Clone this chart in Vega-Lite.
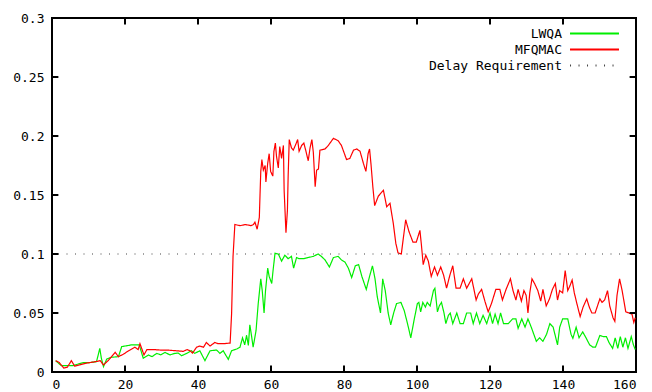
{
  "$schema": "https://vega.github.io/schema/vega-lite/v6.json",
  "width": 584,
  "height": 354,
  "autosize": {"type": "none"},
  "padding": {"left": 52, "top": 18, "right": 16, "bottom": 20},
  "background": "white",
  "config": {
    "view": {"stroke": "black", "strokeWidth": 2},
    "axis": {"domain": false, "grid": false, "ticks": false, "title": null, "labelFont": "DejaVu Sans Mono", "labelFontSize": 13, "labelColor": "#000"},
    "legend": {"orient": "none", "legendX": 526, "legendY": 9, "title": null, "padding": 0, "labelAlign": "right", "labelOffset": -39, "symbolOffset": 10, "symbolSize": 121, "symbolType": "M-4.45,0H4.45", "symbolStrokeWidth": 2, "rowPadding": 2, "labelFont": "DejaVu Sans Mono", "labelFontSize": 13, "labelColor": "#000"}
  },
  "datasets": {
    "series": [
      {"series":"LWQA","x":1.0,"y":0.0096},{"series":"LWQA","x":2.5,"y":0.0055},{"series":"LWQA","x":3.1,"y":0.0054},{"series":"LWQA","x":4.5,"y":0.0055},{"series":"LWQA","x":5.8,"y":0.0054},{"series":"LWQA","x":7.2,"y":0.0068},{"series":"LWQA","x":8.6,"y":0.008},{"series":"LWQA","x":10.4,"y":0.008},{"series":"LWQA","x":12.2,"y":0.0088},{"series":"LWQA","x":13.1,"y":0.02},{"series":"LWQA","x":13.5,"y":0.012},{"series":"LWQA","x":14.1,"y":0.0045},{"series":"LWQA","x":15,"y":0.011},{"series":"LWQA","x":16.3,"y":0.0125},{"series":"LWQA","x":18.2,"y":0.013},{"series":"LWQA","x":19.1,"y":0.0215},{"series":"LWQA","x":21.8,"y":0.023},{"series":"LWQA","x":23.9,"y":0.023},{"series":"LWQA","x":25,"y":0.0116},{"series":"LWQA","x":26.4,"y":0.0144},{"series":"LWQA","x":27.4,"y":0.013},{"series":"LWQA","x":28.7,"y":0.0158},{"series":"LWQA","x":29.8,"y":0.0145},{"series":"LWQA","x":31,"y":0.0166},{"series":"LWQA","x":32.3,"y":0.0145},{"series":"LWQA","x":33.7,"y":0.0158},{"series":"LWQA","x":34.6,"y":0.016},{"series":"LWQA","x":35.5,"y":0.0138},{"series":"LWQA","x":36.9,"y":0.0158},{"series":"LWQA","x":38.2,"y":0.018},{"series":"LWQA","x":39.1,"y":0.0158},{"series":"LWQA","x":40.5,"y":0.018},{"series":"LWQA","x":41.9,"y":0.0096},{"series":"LWQA","x":43.3,"y":0.018},{"series":"LWQA","x":45.1,"y":0.0186},{"series":"LWQA","x":46,"y":0.0158},{"series":"LWQA","x":46.9,"y":0.018},{"series":"LWQA","x":48.3,"y":0.0107},{"series":"LWQA","x":49.2,"y":0.018},{"series":"LWQA","x":50.6,"y":0.0195},{"series":"LWQA","x":51.5,"y":0.021},{"series":"LWQA","x":52.2,"y":0.029},{"series":"LWQA","x":52.8,"y":0.023},{"series":"LWQA","x":53.3,"y":0.031},{"series":"LWQA","x":53.8,"y":0.0225},{"series":"LWQA","x":54.2,"y":0.04},{"series":"LWQA","x":54.7,"y":0.03},{"series":"LWQA","x":55.1,"y":0.021},{"series":"LWQA","x":55.9,"y":0.035},{"series":"LWQA","x":56.5,"y":0.058},{"series":"LWQA","x":57.2,"y":0.079},{"series":"LWQA","x":57.6,"y":0.069},{"series":"LWQA","x":58.1,"y":0.05},{"series":"LWQA","x":58.5,"y":0.069},{"series":"LWQA","x":59.1,"y":0.088},{"series":"LWQA","x":59.5,"y":0.081},{"series":"LWQA","x":60.2,"y":0.075},{"series":"LWQA","x":60.6,"y":0.087},{"series":"LWQA","x":61.1,"y":0.1006},{"series":"LWQA","x":62,"y":0.1},{"series":"LWQA","x":62.9,"y":0.094},{"series":"LWQA","x":63.8,"y":0.099},{"series":"LWQA","x":64.7,"y":0.096},{"series":"LWQA","x":65.6,"y":0.098},{"series":"LWQA","x":66.2,"y":0.088},{"series":"LWQA","x":67,"y":0.097},{"series":"LWQA","x":67.7,"y":0.096},{"series":"LWQA","x":68.9,"y":0.096},{"series":"LWQA","x":70.2,"y":0.097},{"series":"LWQA","x":71.6,"y":0.098},{"series":"LWQA","x":72.9,"y":0.1},{"series":"LWQA","x":73.8,"y":0.098},{"series":"LWQA","x":74.8,"y":0.095},{"series":"LWQA","x":76,"y":0.089},{"series":"LWQA","x":77.1,"y":0.097},{"series":"LWQA","x":78.4,"y":0.098},{"series":"LWQA","x":79.3,"y":0.095},{"series":"LWQA","x":80.3,"y":0.093},{"series":"LWQA","x":81.2,"y":0.088},{"series":"LWQA","x":82.1,"y":0.08},{"series":"LWQA","x":83.1,"y":0.09},{"series":"LWQA","x":84,"y":0.091},{"series":"LWQA","x":84.9,"y":0.081},{"series":"LWQA","x":86.1,"y":0.07},{"series":"LWQA","x":87,"y":0.081},{"series":"LWQA","x":87.8,"y":0.09},{"series":"LWQA","x":88.5,"y":0.079},{"series":"LWQA","x":89.1,"y":0.064},{"series":"LWQA","x":90,"y":0.05},{"series":"LWQA","x":90.6,"y":0.079},{"series":"LWQA","x":91.3,"y":0.069},{"series":"LWQA","x":92.1,"y":0.05},{"series":"LWQA","x":92.8,"y":0.04},{"series":"LWQA","x":93.6,"y":0.05},{"series":"LWQA","x":94.4,"y":0.058},{"series":"LWQA","x":95.6,"y":0.059},{"series":"LWQA","x":96.5,"y":0.052},{"series":"LWQA","x":97.4,"y":0.041},{"series":"LWQA","x":98.3,"y":0.029},{"series":"LWQA","x":99.2,"y":0.044},{"series":"LWQA","x":100.1,"y":0.058},{"series":"LWQA","x":100.5,"y":0.059},{"series":"LWQA","x":101,"y":0.051},{"series":"LWQA","x":101.6,"y":0.059},{"series":"LWQA","x":102.3,"y":0.055},{"series":"LWQA","x":102.8,"y":0.059},{"series":"LWQA","x":103.6,"y":0.056},{"series":"LWQA","x":104.5,"y":0.069},{"series":"LWQA","x":104.9,"y":0.071},{"series":"LWQA","x":105.6,"y":0.051},{"series":"LWQA","x":106.1,"y":0.056},{"series":"LWQA","x":106.7,"y":0.059},{"series":"LWQA","x":107.4,"y":0.05},{"series":"LWQA","x":107.9,"y":0.041},{"series":"LWQA","x":108.6,"y":0.048},{"series":"LWQA","x":109.1,"y":0.05},{"series":"LWQA","x":109.8,"y":0.041},{"series":"LWQA","x":110.9,"y":0.05},{"series":"LWQA","x":111.8,"y":0.041},{"series":"LWQA","x":112.7,"y":0.041},{"series":"LWQA","x":113.6,"y":0.05},{"series":"LWQA","x":114.7,"y":0.05},{"series":"LWQA","x":115.4,"y":0.041},{"series":"LWQA","x":116.3,"y":0.05},{"series":"LWQA","x":117.2,"y":0.041},{"series":"LWQA","x":118.1,"y":0.048},{"series":"LWQA","x":119.1,"y":0.041},{"series":"LWQA","x":120,"y":0.05},{"series":"LWQA","x":120.7,"y":0.041},{"series":"LWQA","x":121.4,"y":0.049},{"series":"LWQA","x":122.2,"y":0.041},{"series":"LWQA","x":122.9,"y":0.05},{"series":"LWQA","x":123.7,"y":0.041},{"series":"LWQA","x":125,"y":0.041},{"series":"LWQA","x":126.2,"y":0.045},{"series":"LWQA","x":127.1,"y":0.045},{"series":"LWQA","x":127.7,"y":0.037},{"series":"LWQA","x":128.7,"y":0.045},{"series":"LWQA","x":129.6,"y":0.038},{"series":"LWQA","x":130.4,"y":0.045},{"series":"LWQA","x":131.3,"y":0.038},{"series":"LWQA","x":132.7,"y":0.026},{"series":"LWQA","x":133.6,"y":0.029},{"series":"LWQA","x":134.5,"y":0.026},{"series":"LWQA","x":135.5,"y":0.032},{"series":"LWQA","x":136.4,"y":0.041},{"series":"LWQA","x":137.3,"y":0.038},{"series":"LWQA","x":138.5,"y":0.023},{"series":"LWQA","x":139.1,"y":0.038},{"series":"LWQA","x":139.9,"y":0.045},{"series":"LWQA","x":141.3,"y":0.045},{"series":"LWQA","x":142.2,"y":0.032},{"series":"LWQA","x":142.7,"y":0.0285},{"series":"LWQA","x":143.6,"y":0.038},{"series":"LWQA","x":144.4,"y":0.029},{"series":"LWQA","x":145.4,"y":0.034},{"series":"LWQA","x":146.3,"y":0.029},{"series":"LWQA","x":147.3,"y":0.023},{"series":"LWQA","x":148.2,"y":0.021},{"series":"LWQA","x":148.9,"y":0.021},{"series":"LWQA","x":150.1,"y":0.031},{"series":"LWQA","x":151,"y":0.03},{"series":"LWQA","x":151.9,"y":0.03},{"series":"LWQA","x":152.6,"y":0.025},{"series":"LWQA","x":153.6,"y":0.02},{"series":"LWQA","x":154.3,"y":0.029},{"series":"LWQA","x":155,"y":0.02},{"series":"LWQA","x":155.7,"y":0.03},{"series":"LWQA","x":156.4,"y":0.021},{"series":"LWQA","x":157.1,"y":0.029},{"series":"LWQA","x":157.8,"y":0.02},{"series":"LWQA","x":158.7,"y":0.03},{"series":"LWQA","x":159.3,"y":0.023},{"series":"LWQA","x":159.8,"y":0.019},
      {"series":"MFQMAC","x":1.0,"y":0.0096},{"series":"MFQMAC","x":2.0,"y":0.008},{"series":"MFQMAC","x":3.2,"y":0.0034},{"series":"MFQMAC","x":4.2,"y":0.004},{"series":"MFQMAC","x":5.3,"y":0.0096},{"series":"MFQMAC","x":6.2,"y":0.005},{"series":"MFQMAC","x":7.5,"y":0.006},{"series":"MFQMAC","x":9.5,"y":0.0076},{"series":"MFQMAC","x":11.5,"y":0.0085},{"series":"MFQMAC","x":13.2,"y":0.0096},{"series":"MFQMAC","x":14.1,"y":0.006},{"series":"MFQMAC","x":15.5,"y":0.01},{"series":"MFQMAC","x":17.3,"y":0.0167},{"series":"MFQMAC","x":18.2,"y":0.013},{"series":"MFQMAC","x":19.5,"y":0.015},{"series":"MFQMAC","x":21,"y":0.018},{"series":"MFQMAC","x":22.7,"y":0.021},{"series":"MFQMAC","x":23.6,"y":0.019},{"series":"MFQMAC","x":24.1,"y":0.024},{"series":"MFQMAC","x":25.2,"y":0.0145},{"series":"MFQMAC","x":26,"y":0.019},{"series":"MFQMAC","x":28,"y":0.019},{"series":"MFQMAC","x":30,"y":0.0185},{"series":"MFQMAC","x":32,"y":0.0185},{"series":"MFQMAC","x":34,"y":0.018},{"series":"MFQMAC","x":36,"y":0.0175},{"series":"MFQMAC","x":37,"y":0.019},{"series":"MFQMAC","x":37.8,"y":0.018},{"series":"MFQMAC","x":38.5,"y":0.016},{"series":"MFQMAC","x":39.6,"y":0.021},{"series":"MFQMAC","x":40.5,"y":0.022},{"series":"MFQMAC","x":41.5,"y":0.021},{"series":"MFQMAC","x":42.3,"y":0.025},{"series":"MFQMAC","x":43.3,"y":0.022},{"series":"MFQMAC","x":44.6,"y":0.025},{"series":"MFQMAC","x":45.5,"y":0.024},{"series":"MFQMAC","x":47,"y":0.024},{"series":"MFQMAC","x":48.8,"y":0.0245},{"series":"MFQMAC","x":49.2,"y":0.049},{"series":"MFQMAC","x":49.6,"y":0.098},{"series":"MFQMAC","x":50.1,"y":0.125},{"series":"MFQMAC","x":51.5,"y":0.124},{"series":"MFQMAC","x":53,"y":0.125},{"series":"MFQMAC","x":54.5,"y":0.124},{"series":"MFQMAC","x":55.2,"y":0.125},{"series":"MFQMAC","x":55.6,"y":0.127},{"series":"MFQMAC","x":56.2,"y":0.121},{"series":"MFQMAC","x":56.8,"y":0.131},{"series":"MFQMAC","x":57.0,"y":0.151},{"series":"MFQMAC","x":57.2,"y":0.17},{"series":"MFQMAC","x":57.5,"y":0.18},{"series":"MFQMAC","x":57.9,"y":0.171},{"series":"MFQMAC","x":58.4,"y":0.175},{"series":"MFQMAC","x":58.6,"y":0.161},{"series":"MFQMAC","x":59.1,"y":0.177},{"series":"MFQMAC","x":59.5,"y":0.185},{"series":"MFQMAC","x":59.9,"y":0.17},{"series":"MFQMAC","x":60.5,"y":0.166},{"series":"MFQMAC","x":60.8,"y":0.187},{"series":"MFQMAC","x":61.2,"y":0.194},{"series":"MFQMAC","x":61.5,"y":0.183},{"series":"MFQMAC","x":62,"y":0.173},{"series":"MFQMAC","x":62.4,"y":0.191},{"series":"MFQMAC","x":62.9,"y":0.181},{"series":"MFQMAC","x":63.4,"y":0.192},{"series":"MFQMAC","x":63.6,"y":0.154},{"series":"MFQMAC","x":64.1,"y":0.118},{"series":"MFQMAC","x":64.5,"y":0.137},{"series":"MFQMAC","x":64.7,"y":0.166},{"series":"MFQMAC","x":65,"y":0.197},{"series":"MFQMAC","x":65.6,"y":0.19},{"series":"MFQMAC","x":66.1,"y":0.188},{"series":"MFQMAC","x":66.8,"y":0.193},{"series":"MFQMAC","x":67.3,"y":0.197},{"series":"MFQMAC","x":67.7,"y":0.187},{"series":"MFQMAC","x":68.4,"y":0.192},{"series":"MFQMAC","x":69,"y":0.194},{"series":"MFQMAC","x":69.5,"y":0.188},{"series":"MFQMAC","x":70.2,"y":0.179},{"series":"MFQMAC","x":70.7,"y":0.19},{"series":"MFQMAC","x":71.2,"y":0.197},{"series":"MFQMAC","x":71.6,"y":0.186},{"series":"MFQMAC","x":72.1,"y":0.157},{"series":"MFQMAC","x":72.5,"y":0.171},{"series":"MFQMAC","x":73,"y":0.172},{"series":"MFQMAC","x":73.4,"y":0.188},{"series":"MFQMAC","x":74.8,"y":0.189},{"series":"MFQMAC","x":75.7,"y":0.192},{"series":"MFQMAC","x":77.1,"y":0.198},{"series":"MFQMAC","x":78.4,"y":0.196},{"series":"MFQMAC","x":79.3,"y":0.192},{"series":"MFQMAC","x":80.7,"y":0.18},{"series":"MFQMAC","x":81.6,"y":0.181},{"series":"MFQMAC","x":82.6,"y":0.188},{"series":"MFQMAC","x":83.5,"y":0.189},{"series":"MFQMAC","x":84.4,"y":0.187},{"series":"MFQMAC","x":85.3,"y":0.177},{"series":"MFQMAC","x":86,"y":0.17},{"series":"MFQMAC","x":86.6,"y":0.185},{"series":"MFQMAC","x":87,"y":0.189},{"series":"MFQMAC","x":87.4,"y":0.176},{"series":"MFQMAC","x":87.9,"y":0.157},{"series":"MFQMAC","x":88.4,"y":0.141},{"series":"MFQMAC","x":89.4,"y":0.149},{"series":"MFQMAC","x":90.8,"y":0.154},{"series":"MFQMAC","x":91.7,"y":0.14},{"series":"MFQMAC","x":92.6,"y":0.143},{"series":"MFQMAC","x":93.5,"y":0.126},{"series":"MFQMAC","x":94.2,"y":0.109},{"series":"MFQMAC","x":94.8,"y":0.101},{"series":"MFQMAC","x":95.7,"y":0.1},{"series":"MFQMAC","x":96.9,"y":0.129},{"series":"MFQMAC","x":97.8,"y":0.119},{"series":"MFQMAC","x":98.9,"y":0.11},{"series":"MFQMAC","x":99.8,"y":0.11},{"series":"MFQMAC","x":100.8,"y":0.12},{"series":"MFQMAC","x":101.2,"y":0.108},{"series":"MFQMAC","x":101.7,"y":0.091},{"series":"MFQMAC","x":102.4,"y":0.099},{"series":"MFQMAC","x":103.1,"y":0.094},{"series":"MFQMAC","x":103.9,"y":0.081},{"series":"MFQMAC","x":104.8,"y":0.089},{"series":"MFQMAC","x":105.6,"y":0.082},{"series":"MFQMAC","x":106.5,"y":0.089},{"series":"MFQMAC","x":107.3,"y":0.082},{"series":"MFQMAC","x":108.1,"y":0.071},{"series":"MFQMAC","x":109,"y":0.082},{"series":"MFQMAC","x":109.8,"y":0.09},{"series":"MFQMAC","x":110.7,"y":0.071},{"series":"MFQMAC","x":111.8,"y":0.071},{"series":"MFQMAC","x":112.7,"y":0.079},{"series":"MFQMAC","x":113.6,"y":0.071},{"series":"MFQMAC","x":115,"y":0.079},{"series":"MFQMAC","x":116.2,"y":0.061},{"series":"MFQMAC","x":116.8,"y":0.066},{"series":"MFQMAC","x":117.7,"y":0.07},{"series":"MFQMAC","x":118.6,"y":0.06},{"series":"MFQMAC","x":119.5,"y":0.051},{"series":"MFQMAC","x":120.4,"y":0.058},{"series":"MFQMAC","x":121.6,"y":0.07},{"series":"MFQMAC","x":122.7,"y":0.07},{"series":"MFQMAC","x":123.4,"y":0.061},{"series":"MFQMAC","x":124.4,"y":0.07},{"series":"MFQMAC","x":125.6,"y":0.079},{"series":"MFQMAC","x":126.3,"y":0.069},{"series":"MFQMAC","x":127.1,"y":0.061},{"series":"MFQMAC","x":127.7,"y":0.07},{"series":"MFQMAC","x":128.6,"y":0.06},{"series":"MFQMAC","x":129.3,"y":0.069},{"series":"MFQMAC","x":129.9,"y":0.065},{"series":"MFQMAC","x":130.4,"y":0.05},{"series":"MFQMAC","x":130.9,"y":0.067},{"series":"MFQMAC","x":131.5,"y":0.079},{"series":"MFQMAC","x":132.2,"y":0.075},{"series":"MFQMAC","x":133.1,"y":0.069},{"series":"MFQMAC","x":133.9,"y":0.06},{"series":"MFQMAC","x":134.5,"y":0.07},{"series":"MFQMAC","x":135.4,"y":0.056},{"series":"MFQMAC","x":136.3,"y":0.062},{"series":"MFQMAC","x":137.1,"y":0.07},{"series":"MFQMAC","x":137.9,"y":0.075},{"series":"MFQMAC","x":138.5,"y":0.061},{"series":"MFQMAC","x":139.1,"y":0.069},{"series":"MFQMAC","x":139.9,"y":0.067},{"series":"MFQMAC","x":140.6,"y":0.086},{"series":"MFQMAC","x":141.3,"y":0.069},{"series":"MFQMAC","x":141.9,"y":0.073},{"series":"MFQMAC","x":142.5,"y":0.078},{"series":"MFQMAC","x":143.1,"y":0.067},{"series":"MFQMAC","x":143.8,"y":0.058},{"series":"MFQMAC","x":144.7,"y":0.047},{"series":"MFQMAC","x":145.5,"y":0.055},{"series":"MFQMAC","x":146.5,"y":0.062},{"series":"MFQMAC","x":147.2,"y":0.055},{"series":"MFQMAC","x":147.9,"y":0.05},{"series":"MFQMAC","x":148.8,"y":0.05},{"series":"MFQMAC","x":150.1,"y":0.062},{"series":"MFQMAC","x":150.7,"y":0.059},{"series":"MFQMAC","x":151.4,"y":0.061},{"series":"MFQMAC","x":152.2,"y":0.069},{"series":"MFQMAC","x":152.8,"y":0.056},{"series":"MFQMAC","x":153.7,"y":0.046},{"series":"MFQMAC","x":154.2,"y":0.043},{"series":"MFQMAC","x":154.8,"y":0.065},{"series":"MFQMAC","x":155.5,"y":0.079},{"series":"MFQMAC","x":156.2,"y":0.069},{"series":"MFQMAC","x":157.2,"y":0.051},{"series":"MFQMAC","x":158.1,"y":0.05},{"series":"MFQMAC","x":158.9,"y":0.049},{"series":"MFQMAC","x":159.4,"y":0.042},{"series":"MFQMAC","x":159.8,"y":0.046}
    ],
    "req": [
      {"series": "Delay Requirement", "x": 0, "y": 0.1},
      {"series": "Delay Requirement", "x": 160, "y": 0.1}
    ],
    "xticks": [{"x": 0}, {"x": 20}, {"x": 40}, {"x": 60}, {"x": 80}, {"x": 100}, {"x": 120}, {"x": 140}, {"x": 160}],
    "yticks": [{"y": 0}, {"y": 0.05}, {"y": 0.1}, {"y": 0.15}, {"y": 0.2}, {"y": 0.25}, {"y": 0.3}]
  },
  "layer": [
    {
      "data": {"name": "series"},
      "mark": {"type": "line", "strokeWidth": 1.2},
      "encoding": {
        "x": {"field": "x", "type": "quantitative", "scale": {"domain": [0, 160], "nice": false, "zero": false}, "axis": {"orient": "bottom", "values": [0, 20, 40, 60, 80, 100, 120, 140, 160], "labelPadding": 6}},
        "y": {"field": "y", "type": "quantitative", "scale": {"domain": [0, 0.3], "nice": false}, "axis": {"orient": "left", "values": [0, 0.05, 0.1, 0.15, 0.2, 0.25, 0.3], "format": "~g", "labelPadding": 8}},
        "color": {"field": "series", "type": "nominal", "scale": {"domain": ["LWQA", "MFQMAC", "Delay Requirement"], "range": ["#00ee00", "#ff0000", "#444444"]}},
        "strokeDash": {"field": "series", "type": "nominal", "scale": {"domain": ["LWQA", "MFQMAC", "Delay Requirement"], "range": [[1, 0], [1, 0], [1, 7.5]]}}
      }
    },
    {
      "data": {"name": "req"},
      "mark": {"type": "line", "strokeWidth": 1.2, "strokeDashOffset": 2.5},
      "encoding": {
        "x": {"field": "x", "type": "quantitative"},
        "y": {"field": "y", "type": "quantitative"},
        "color": {"field": "series", "type": "nominal"},
        "strokeDash": {"field": "series", "type": "nominal"}
      }
    },
    {
      "data": {"name": "xticks"},
      "mark": {"type": "rule", "color": "black", "strokeWidth": 2},
      "encoding": {
        "x": {"field": "x", "type": "quantitative"},
        "y": {"datum": 0},
        "y2": {"datum": 0.0055}
      }
    },
    {
      "data": {"name": "xticks"},
      "mark": {"type": "rule", "color": "black", "strokeWidth": 2},
      "encoding": {
        "x": {"field": "x", "type": "quantitative"},
        "y": {"datum": 0.3},
        "y2": {"datum": 0.2945}
      }
    },
    {
      "data": {"name": "yticks"},
      "mark": {"type": "rule", "color": "black", "strokeWidth": 2},
      "encoding": {
        "y": {"field": "y", "type": "quantitative"},
        "x": {"datum": 0},
        "x2": {"datum": 1.75}
      }
    },
    {
      "data": {"name": "yticks"},
      "mark": {"type": "rule", "color": "black", "strokeWidth": 2},
      "encoding": {
        "y": {"field": "y", "type": "quantitative"},
        "x": {"datum": 160},
        "x2": {"datum": 158.25}
      }
    }
  ]
}
